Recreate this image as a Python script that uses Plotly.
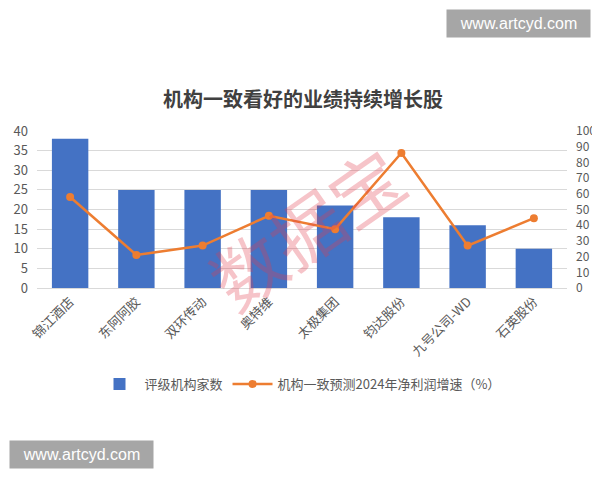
import plotly.graph_objects as go

categories = ["锦江酒店", "东阿阿胶", "双环传动", "奥特维", "太极集团", "钧达股份", "九号公司-WD", "石英股份"]
rating_counts = [38, 25, 25, 25, 21, 18, 16, 10]
growth_2024 = [58, 21, 27, 46, 37.5, 86, 27, 44.5]

font_cjk = "Noto Sans CJK SC, Noto Sans, sans-serif"

# page body has an 8px margin; layout targets are expressed in page pixels
OFF = 8
PL, PR, PT, PB = 37 - OFF, 567 - OFF, 131 - OFF, 288 - OFF
pw, ph = PR - PL, PB - PT


def px(x):
    return (x - OFF - PL) / pw


def py(y):
    return (PB - (y - OFF)) / ph


fig = go.Figure()
fig.add_trace(go.Bar(
    x=categories, y=rating_counts, name="评级机构家数",
    marker=dict(color="#4472C4", line=dict(width=0)),
))
fig.add_trace(go.Scatter(
    x=categories, y=growth_2024, name="机构一致预测2024年净利润增速（%）",
    yaxis="y2", mode="lines+markers",
    line=dict(color="#ED7D31", width=2.5),
    marker=dict(color="#ED7D31", size=8),
))

fig.update_layout(
    width=600, height=480,
    margin=dict(l=PL, r=600 - PR, t=PT, b=480 - PB, autoexpand=False),
    paper_bgcolor="white", plot_bgcolor="white",
    bargap=0.45,
    showlegend=True,
    title=dict(text="<b>机构一致看好的业绩持续增长股</b>", x=px(303), xanchor="center", xref="paper",
               y=1 - (100 - OFF) / 480, yanchor="middle",
               font=dict(family=font_cjk, size=20, color="#404040")),
    font=dict(family=font_cjk, color="#595959", size=12),
    xaxis=dict(tickangle=-45, tickfont=dict(size=13, color="#595959"), automargin=False,
               showline=True, linecolor="#D9D9D9", ticks=""),
    yaxis=dict(range=[0, 40], dtick=5, showgrid=True, gridcolor="#D9D9D9", automargin=False,
               zeroline=False, ticklabelstandoff=8, tickfont=dict(size=13, color="#595959")),
    yaxis2=dict(range=[0, 100], dtick=10, overlaying="y", side="right", automargin=False,
                showgrid=False, zeroline=False, ticklabelstandoff=8,
                tickfont=dict(size=12, color="#595959")),
    legend=dict(orientation="h", x=px(300), xanchor="center", y=py(384), yanchor="middle",
                font=dict(size=13, color="#595959"), itemwidth=40, tracegroupgap=30),
)

fig.add_annotation(text="数据宝", xref="paper", yref="paper", x=px(305), y=py(226),
                   xanchor="center", yanchor="middle",
                   showarrow=False, textangle=-35,
                   font=dict(size=72, color="rgba(225,60,75,0.30)", family=font_cjk))

fig.add_annotation(text="www.artcyd.com", xref="paper", yref="paper",
                   x=px(518), y=py(24), xanchor="center", yanchor="middle", showarrow=False,
                   bgcolor="#A6A6A6", borderpad=5, width=133,
                   font=dict(size=16, color="white", family="Liberation Sans, Arial"))
fig.add_annotation(text="www.artcyd.com", xref="paper", yref="paper",
                   x=px(81), y=py(454), xanchor="center", yanchor="middle", showarrow=False,
                   bgcolor="#A6A6A6", borderpad=5, width=133,
                   font=dict(size=16, color="white", family="Liberation Sans, Arial"))

fig.write_html("out.html")
